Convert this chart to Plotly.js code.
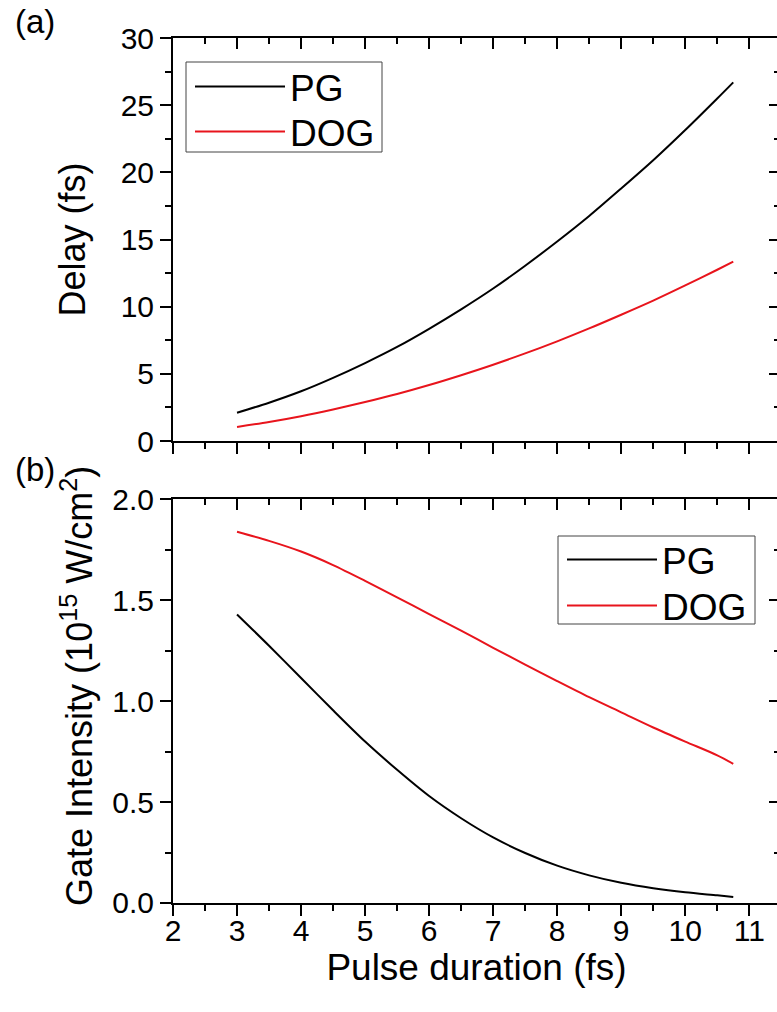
<!DOCTYPE html>
<html>
<head>
<meta charset="utf-8">
<script src="https://cdn.plot.ly/plotly-3.0.1.min.js"></script>
<style>
  html, body { margin: 0; padding: 0; width: 777px; height: 1012px; overflow: hidden; background: #fff; }
  #chart { width: 800px; height: 1012px; }
</style>
</head>
<body>
<div id="chart"></div>
<script>
// Pulse duration (fs)
const tau = [3, 3.5, 4, 4.5, 5, 5.5, 6, 6.5, 7, 7.5, 8, 8.5, 9, 9.5, 10, 10.5, 10.75];

// (a) Delay (fs)
const delayPG  = [2.1, 2.85, 3.7, 4.7, 5.8, 7.0, 8.35, 9.8, 11.35, 13.05, 14.85, 16.75, 18.8, 20.9, 23.15, 25.5, 26.7];
const delayDOG = [1.05, 1.42, 1.85, 2.35, 2.9, 3.5, 4.17, 4.9, 5.68, 6.52, 7.42, 8.38, 9.4, 10.45, 11.58, 12.75, 13.35];

// (b) Gate intensity (10^15 W/cm^2)
const gatePG  = [1.43, 1.275, 1.115, 0.955, 0.80, 0.66, 0.53, 0.42, 0.325, 0.248, 0.185, 0.137, 0.10, 0.073, 0.053, 0.038, 0.03];
const gateDOG = [1.84, 1.795, 1.742, 1.675, 1.597, 1.515, 1.432, 1.35, 1.265, 1.182, 1.10, 1.02, 0.945, 0.87, 0.80, 0.732, 0.69];

const seriesNames = ['PG', 'DOG'];
const seriesColors = ['#000000', '#e8141c'];

const FONT = 'Liberation Sans, Arial, sans-serif';
const xRange = [2, 11.48];
const rangeA = [0, 30];
const rangeB = [0, 2.0];

const lineStyle = (c) => ({ color: c, width: 2, shape: 'spline', smoothing: 0.8 });

// one single-entry legend per curve so the rows sit at a tight pitch inside a framed box
const traces = [
  { x: tau, y: delayPG,  name: seriesNames[0], xaxis: 'x',  yaxis: 'y',  mode: 'lines', line: lineStyle(seriesColors[0]), legend: 'legend' },
  { x: tau, y: delayDOG, name: seriesNames[1], xaxis: 'x',  yaxis: 'y',  mode: 'lines', line: lineStyle(seriesColors[1]), legend: 'legend2' },
  { x: tau, y: gatePG,   name: seriesNames[0], xaxis: 'x2', yaxis: 'y2', mode: 'lines', line: lineStyle(seriesColors[0]), legend: 'legend3' },
  { x: tau, y: gateDOG,  name: seriesNames[1], xaxis: 'x2', yaxis: 'y2', mode: 'lines', line: lineStyle(seriesColors[1]), legend: 'legend4' }
];

const tickBase = {
  showline: true, linecolor: '#000', linewidth: 2,
  ticklen: 11, tickwidth: 2, tickcolor: '#000',
  showgrid: false, zeroline: false,
  tickfont: { family: FONT, size: 30, color: '#000' }
};
const minorX = { dtick: 0.5, ticklen: 6, tickwidth: 2, tickcolor: '#000', ticks: '' };

// bottom axes with outward ticks
const xA = Object.assign({}, tickBase, { range: xRange, dtick: 1, tick0: 2, ticks: 'outside', anchor: 'y', showticklabels: false,
  minor: Object.assign({}, minorX, { ticks: 'outside' }) });
const xB = Object.assign({}, tickBase, { range: xRange, dtick: 1, tick0: 2, ticks: 'outside', anchor: 'y2', ticklabelstandoff: -11,
  minor: Object.assign({}, minorX, { ticks: 'outside' }),
  title: { text: 'Pulse duration (fs)', font: { family: FONT, size: 37, color: '#000' }, standoff: 2 } });

// top / right frame axes with inward ticks
const frameX = (anchor, over) => Object.assign({}, tickBase, { range: xRange, dtick: 1, tick0: 2, ticks: 'inside', side: 'top',
  overlaying: over, anchor: anchor, showticklabels: false, minor: Object.assign({}, minorX, { ticks: 'inside' }) });
const frameY = (anchor, over, range, dt, mdt) => Object.assign({}, tickBase, { range: range, dtick: dt, ticks: 'inside', side: 'right',
  overlaying: over, anchor: anchor, showticklabels: false, minor: { dtick: mdt, ticks: 'inside', ticklen: 6, tickwidth: 2, tickcolor: '#000' } });

const yA = Object.assign({}, tickBase, { range: rangeA, dtick: 5, ticks: 'outside', anchor: 'x', domain: [0.5341, 1],
  minor: { dtick: 2.5, ticks: 'outside', ticklen: 6, tickwidth: 2, tickcolor: '#000' },
  title: { text: 'Delay (fs)', font: { family: FONT, size: 36, color: '#000' }, standoff: 24 } });
const yB = Object.assign({}, tickBase, { range: rangeB, dtick: 0.5, tickformat: '.1f', ticks: 'outside', anchor: 'x2', domain: [0, 0.4665],
  minor: { dtick: 0.25, ticks: 'outside', ticklen: 6, tickwidth: 2, tickcolor: '#000' } });

const legendBase = {
  font: { family: FONT, size: 37, color: '#000' },
  bgcolor: 'rgba(0,0,0,0)', borderwidth: 0,
  itemwidth: 90, xref: 'paper', yref: 'paper',
  xanchor: 'left', yanchor: 'top'
};

// pixel helpers for the plot area (173..780 x 38..903)
const px = (p) => (p - 173) / 607;
const py = (p) => (903 - p) / 865;

const layout = {
  width: 800, height: 1012,
  margin: { l: 173, r: 20, t: 38, b: 109 },
  paper_bgcolor: '#fff', plot_bgcolor: '#fff',
  font: { family: FONT, color: '#000' },
  showlegend: true,
  xaxis: xA,
  xaxis2: Object.assign(xB, { matches: 'x' }),
  xaxis3: frameX('y', 'x'),
  xaxis4: frameX('y2', 'x2'),
  yaxis: yA,
  yaxis2: yB,
  yaxis3: frameY('x', 'y', rangeA, 5, 2.5),
  yaxis4: frameY('x2', 'y2', rangeB, 0.5, 0.25),
  legend:  Object.assign({}, legendBase, { x: px(190), y: py(56) }),
  legend2: Object.assign({}, legendBase, { x: px(190), y: py(101) }),
  legend3: Object.assign({}, legendBase, { x: px(562), y: py(529) }),
  legend4: Object.assign({}, legendBase, { x: px(562), y: py(575) }),
  shapes: [
    { type: 'rect', xref: 'paper', yref: 'paper', x0: px(186), x1: px(382), y0: py(62), y1: py(152),
      line: { color: '#444', width: 1 }, fillcolor: 'rgba(0,0,0,0)', layer: 'below' },
    { type: 'rect', xref: 'paper', yref: 'paper', x0: px(558), x1: px(755), y0: py(536), y1: py(624),
      line: { color: '#444', width: 1 }, fillcolor: 'rgba(0,0,0,0)', layer: 'below' }
  ],
  annotations: [
    { text: 'Gate Intensity (10<sup>15</sup> W/cm<sup>2</sup>)', textangle: -90, xref: 'paper', yref: 'paper',
      x: px(77), y: py(686), xanchor: 'center', yanchor: 'middle', showarrow: false,
      font: { family: FONT, size: 36, color: '#000' } },
    { text: '(a)', xref: 'paper', yref: 'paper', x: -0.227, y: 1.0185, xanchor: 'center', yanchor: 'middle', showarrow: false,
      font: { family: FONT, size: 33, color: '#000' } },
    { text: '(b)', xref: 'paper', yref: 'paper', x: -0.227, y: 0.5006, xanchor: 'center', yanchor: 'middle', showarrow: false,
      font: { family: FONT, size: 33, color: '#000' } }
  ]
};

// frame axes need a (hidden) trace each so they are drawn
const frameTraces = [
  { x: [], y: [], xaxis: 'x3', yaxis: 'y', showlegend: false, hoverinfo: 'skip' },
  { x: [], y: [], xaxis: 'x4', yaxis: 'y2', showlegend: false, hoverinfo: 'skip' },
  { x: [], y: [], xaxis: 'x', yaxis: 'y3', showlegend: false, hoverinfo: 'skip' },
  { x: [], y: [], xaxis: 'x2', yaxis: 'y4', showlegend: false, hoverinfo: 'skip' }
];

Plotly.newPlot('chart', traces.concat(frameTraces), layout, { staticPlot: true, displayModeBar: false });
</script>
</body>
</html>
